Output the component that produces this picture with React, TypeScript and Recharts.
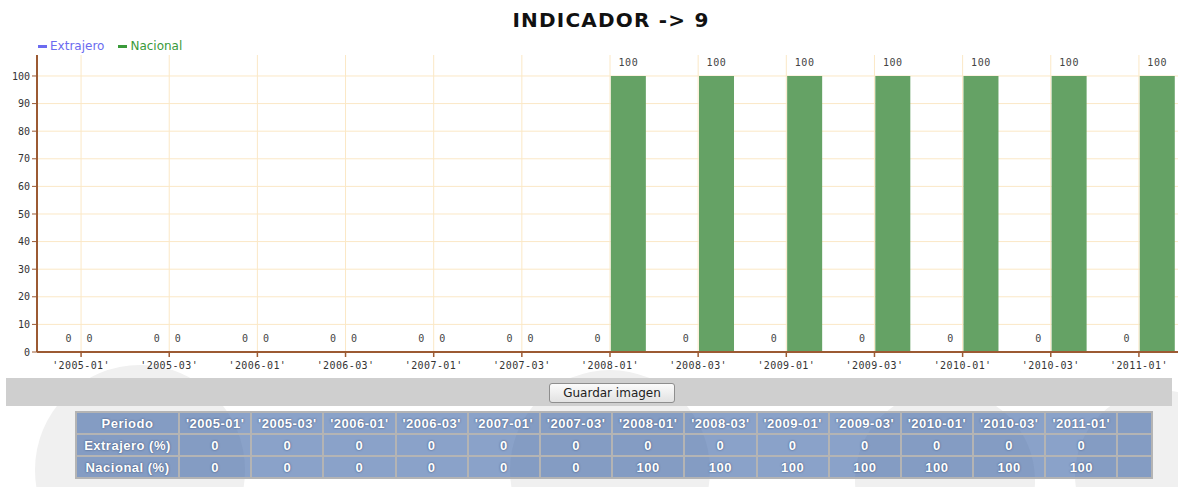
import React from 'react';
import { BarChart, Bar, XAxis, YAxis, CartesianGrid, LabelList } from 'recharts';

const categories = ["'2005-01'", "'2005-03'", "'2006-01'", "'2006-03'", "'2007-01'", "'2007-03'", "'2008-01'", "'2008-03'", "'2009-01'", "'2009-03'", "'2010-01'", "'2010-03'", "'2011-01'"];
const extrajeroValues = [0, 0, 0, 0, 0, 0, 0, 0, 0, 0, 0, 0, 0];
const nacionalValues = [0, 0, 0, 0, 0, 0, 100, 100, 100, 100, 100, 100, 100];
const yTicks = [0, 10, 20, 30, 40, 50, 60, 70, 80, 90, 100];
const yMax = 107.6;
const seriesNames = ['Extrajero', 'Nacional'];
const rowLabels = ['Extrajero (%)', 'Nacional (%)'];
const titleText = 'INDICADOR -> 9';
const periodLabel = 'Periodo';

const BROWN = '#9c5a33';
const GRID = '#fbe8c6';
const BAR_GREEN = '#65a265';
const BAR_BLUE = '#6b6bf0';
const LEGEND_COLORS = ['#6b6bf0', '#3a9a3a'];
const MONO = '"DejaVu Sans Mono", monospace';

const data = categories.map((c, i) => ({
  periodo: c,
  extrajero: extrajeroValues[i],
  nacional: nacionalValues[i],
}));

const makeLabel = (side: 'left' | 'right') => (props: any) => {
  const vb = props.viewBox && typeof props.viewBox.x === 'number' ? props.viewBox : props;
  const x = Number(vb.x);
  const y = Number(vb.y);
  const width = Number(vb.width);
  const height = Number(vb.height) || 0;
  const v = Number(props.value);
  const top = Math.min(y, y + height);
  let cx = x + width / 2;
  if (v === 0) cx = side === 'left' ? x + width - 11 : x + 8;
  return (
    <text x={cx} y={top - 10} textAnchor="middle" fontSize={10} fontFamily={MONO} fill="#444" letterSpacing={0.6}>
      {v}
    </text>
  );
};

const hGen = (p: any) => {
  const s = p && p.yAxis ? p.yAxis.scale : null;
  if (typeof s === 'function') return yTicks.map((t) => s(t));
  if (s && typeof s.map === 'function') return yTicks.map((t) => s.map(t));
  const off = p.offset;
  return yTicks.map((t) => off.top + off.height * (1 - t / yMax));
};

const shapes = [
  { cx: 140, cy: 470, r: 105 },
  { cx: 610, cy: 470, r: 100 },
  { cx: 945, cy: 480, r: 90 },
  { cx: 1160, cy: 475, r: 85 },
];

export default function App() {
  const cellBase: React.CSSProperties = {
    border: '2px solid #b4b4b4',
    background: 'rgba(60,100,165,0.6)',
    color: '#fff',
    fontWeight: 'bold',
    fontFamily: '"Liberation Sans", Arial, sans-serif',
    fontSize: 13,
    letterSpacing: 0.5,
    textAlign: 'center',
    height: 20,
    padding: 0,
    textShadow: '0 0 2px rgba(30,50,90,0.8)',
    whiteSpace: 'nowrap',
    overflow: 'hidden',
  };
  return (
    <div style={{ position: 'absolute', left: 0, top: 0, width: 1178, height: 487, overflow: 'hidden', background: '#fff' }}>
      {/* faint background shapes */}
      <div style={{ position: 'absolute', left: 0, top: 362, width: 1178, height: 125, overflow: 'hidden' }}>
        {shapes.map((s, i) => (
          <div
            key={i}
            style={{
              position: 'absolute',
              left: s.cx - s.r,
              top: s.cy - 362 - s.r,
              width: s.r * 2,
              height: s.r * 2,
              borderRadius: '50%',
              background: '#f0f0f0',
            }}
          />
        ))}
      </div>

      {/* title */}
      <div
        style={{
          position: 'absolute',
          left: 0,
          top: 8,
          width: 1222,
          textAlign: 'center',
          fontFamily: '"DejaVu Sans", sans-serif',
          fontWeight: 'bold',
          fontSize: 20,
          letterSpacing: 1.2,
          color: '#111',
          lineHeight: '24px',
        }}
      >
        {titleText}
      </div>

      {/* legend */}
      <div style={{ position: 'absolute', left: 38, top: 38, display: 'flex', fontFamily: '"DejaVu Sans", sans-serif', fontSize: 12, lineHeight: '16px' }}>
        {seriesNames.map((n, i) => (
          <div key={n} style={{ display: 'flex', alignItems: 'center', marginRight: 14 }}>
            <div style={{ width: 9, height: 3, background: LEGEND_COLORS[i], marginRight: 3 }} />
            <span style={{ color: LEGEND_COLORS[i] }}>{n}</span>
          </div>
        ))}
      </div>

      {/* chart */}
      <div style={{ position: 'absolute', left: 0, top: 0 }}>
        <BarChart
          width={1190}
          height={380}
          data={data}
          margin={{ top: 55, right: 7, bottom: 8, left: 0 }}
          barCategoryGap="9%"
          barGap={2}
        >
          <CartesianGrid stroke={GRID} strokeWidth={1} horizontalCoordinatesGenerator={hGen} />
          <XAxis
            dataKey="periodo"
            interval={0}
            height={20}
            tickSize={5}
            tickMargin={5}
            axisLine={{ stroke: BROWN, strokeWidth: 2 }}
            tickLine={{ stroke: BROWN, strokeWidth: 1.5 }}
            tick={{ fontSize: 10, fontFamily: MONO, fill: '#333', letterSpacing: 0.4 }}
          />
          <YAxis
            type="number"
            domain={[0, yMax]}
            ticks={yTicks}
            interval={0}
            width={37}
            tickSize={5}
            allowDataOverflow
            axisLine={{ stroke: BROWN, strokeWidth: 2 }}
            tickLine={{ stroke: BROWN, strokeWidth: 1 }}
            tick={{ fontSize: 10, fontFamily: MONO, fill: '#333' }}
          />
          <Bar dataKey="extrajero" name={seriesNames[0]} fill={BAR_BLUE} minPointSize={0.01} isAnimationActive={false}>
            <LabelList dataKey="extrajero" content={makeLabel('left')} />
          </Bar>
          <Bar dataKey="nacional" name={seriesNames[1]} fill={BAR_GREEN} minPointSize={0.01} isAnimationActive={false}>
            <LabelList dataKey="nacional" content={makeLabel('right')} />
          </Bar>
        </BarChart>
      </div>

      {/* toolbar band */}
      <div style={{ position: 'absolute', left: 6, top: 378, width: 1166, height: 28, background: '#cfcfcf' }} />
      <div
        style={{
          position: 'absolute',
          left: 549,
          top: 383,
          width: 126,
          height: 20,
          boxSizing: 'border-box',
          border: '1px solid #8e8e8e',
          borderRadius: 3,
          background: 'linear-gradient(#fbfbfb, #e2e2e2)',
          fontFamily: '"DejaVu Sans", sans-serif',
          fontSize: 12,
          color: '#222',
          textAlign: 'center',
          lineHeight: '18px',
        }}
      >
        Guardar imagen
      </div>

      {/* data table */}
      <table
        style={{
          position: 'absolute',
          left: 75,
          top: 411,
          borderCollapse: 'collapse',
          tableLayout: 'fixed',
          width: 1077,
          border: '2px solid #8f8f8f',
        }}
      >
        <colgroup>
          <col style={{ width: 103 }} />
          {categories.map((c) => (
            <col key={c} style={{ width: 72.2 }} />
          ))}
          <col style={{ width: 35 }} />
        </colgroup>
        <tbody>
          <tr>
            <td style={cellBase}>{periodLabel}</td>
            {categories.map((c) => (
              <td key={c} style={cellBase}>{c}</td>
            ))}
            <td style={cellBase}></td>
          </tr>
          {[extrajeroValues, nacionalValues].map((vals, r) => (
            <tr key={r}>
              <td style={cellBase}>{rowLabels[r]}</td>
              {vals.map((v, i) => (
                <td key={i} style={cellBase}>{v}</td>
              ))}
              <td style={cellBase}></td>
            </tr>
          ))}
        </tbody>
      </table>
    </div>
  );
}
